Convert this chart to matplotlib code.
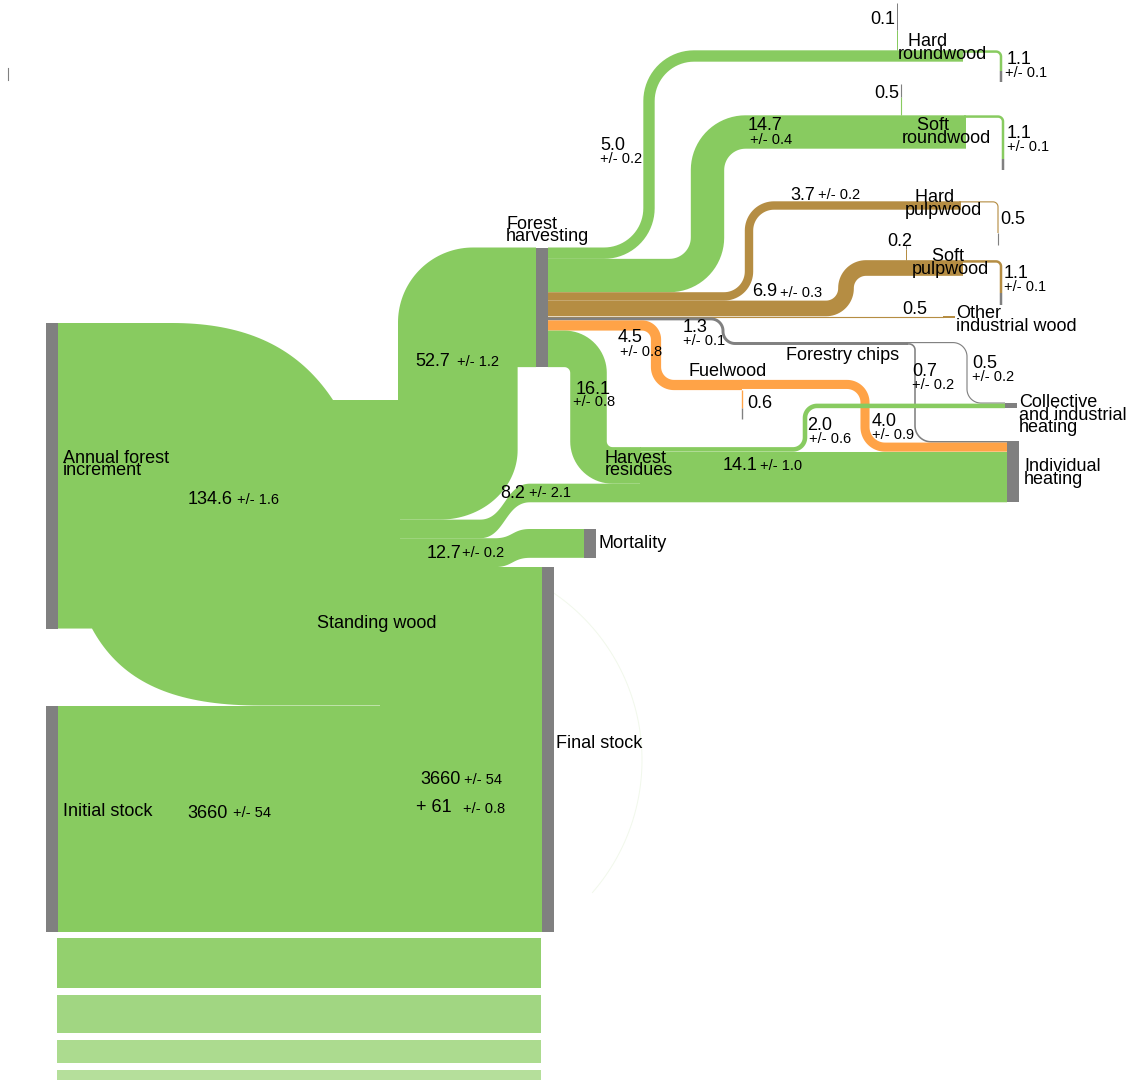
import numpy as np
import matplotlib
matplotlib.use('Agg')
import matplotlib.pyplot as plt
from matplotlib.patches import Polygon, Rectangle

plt.rcParams['font.family'] = ['Liberation Sans', 'DejaVu Sans']

# ---- data (million m3 / year, +/- uncertainty) ----
increment = 134.6
increment_err = 1.6
inc_split = [52.7, 8.2, 12.7, 61.0]          # harvesting, direct heating, mortality, stock growth
inc_split_err = [1.2, 2.1, 0.2, 0.8]
stock_initial = 3660
stock_err = 54

harvest_out = [5.0, 14.7, 3.7, 6.9, 0.5, 1.3, 4.5, 16.1]
harvest_err = [0.2, 0.4, 0.2, 0.3, None, 0.1, 0.8, 0.8]

product_up = [0.1, 0.5, None, 0.2]           # small flows leaving the product bands upward
product_right = [1.1, 1.1, 0.5, 1.1]         # flows leaving to the right / down
product_right_err = [0.1, 0.1, None, 0.1]

chips_split = [0.5, 0.7]                     # collective, individual
chips_split_err = [0.2, 0.2]
fuel_loss = 0.6
fuel_heat = 4.0
fuel_heat_err = 0.9
resid_split = [2.0, 14.1]                    # collective, individual
resid_split_err = [0.6, 1.0]

stock_bars = [50, 38, 23, 15]                # faded stock slices below

# ---- style / layout ----
S = 2.27            # px per unit
NW = 12             # node width
GREEN = '#88cb60'
BROWN = '#b58d43'
ORANGE = '#ffa347'
GRAY = '#808080'
BAR_COLORS = ['#93d06e', '#a1d682', '#acdb8f', '#b5df9b']
BIG, SMALL = 13, 10.5


def bez(p0, p1, p2, p3, n=40):
    t = np.linspace(0, 1, n)[:, None]
    p0, p1, p2, p3 = map(np.array, (p0, p1, p2, p3))
    return list(map(tuple, (1-t)**3*p0 + 3*(1-t)**2*t*p1 + 3*(1-t)*t**2*p2 + t**3*p3))


def s_curve(x0, y0, x1, y1):
    xm = (x0 + x1) / 2
    return bez((x0, y0), (xm, y0), (xm, y1), (x1, y1))


def arc(cx, cy, rx, ry, a0, a1, n=40):
    a = np.radians(np.linspace(a0, a1, n))
    return list(zip(cx + rx*np.cos(a), cy + ry*np.sin(a)))


def rounded(pts, radii, n=20):
    out = [pts[0]]
    for i in range(1, len(pts) - 1):
        p0, p, p1 = (np.array(q, float) for q in pts[i-1:i+2])
        d1 = (p - p0) / np.linalg.norm(p - p0)
        d2 = (p1 - p) / np.linalg.norm(p1 - p)
        r = radii[i-1]
        c = p - d1*r + d2*r
        t = np.linspace(0, np.pi/2, n)
        a = c[None, :] - np.outer(np.cos(t), d2)*r + np.outer(np.sin(t), d1)*r
        out += list(map(tuple, a))
    out.append(pts[-1])
    return out


def pipe(pts, radii, value, color, z=2, minw=1.0):
    p = np.array(rounded(pts, radii))
    ax.plot(p[:, 0], p[:, 1], color=color, lw=max(value*S, minw)*0.72,
            solid_capstyle='butt', solid_joinstyle='round', zorder=z)


def poly(pts, color, z=1):
    ax.add_patch(Polygon(pts, closed=True, fc=color, ec='none', zorder=z))


def node(x, y, h, w=NW, color=GRAY):
    ax.add_patch(Rectangle((x, y), w, h, fc=color, ec='none', zorder=5))


def txt(s, x, y, size=BIG, ha='left'):
    ax.text(x, y, s, fontsize=size, ha=ha, va='center', color='black', zorder=10,
            linespacing=0.67, multialignment='left')


fig = plt.figure(figsize=(11.31, 10.8), dpi=100)
ax = fig.add_axes([0, 0, 1, 1])
ax.set_xlim(0, 1131)
ax.set_ylim(1080, 0)
ax.axis('off')

# ---- annual increment block ----
INC_X, INC_TOP, SHIFT = 46, 323, 77
inc_h = increment * S
inc_bot = INC_TOP + inc_h
y0 = INC_TOP + SHIFT
top = [(58, INC_TOP), (172, INC_TOP)] + bez((172, INC_TOP), (250, INC_TOP), (300, 350), (333, y0)) + [(400, y0)]
bot = [(58, inc_bot), (92, inc_bot)] + bez((92, inc_bot), (120, 680), (170, inc_bot + SHIFT), (260, inc_bot + SHIFT)) + [(400, inc_bot + SHIFT)]
poly(top + bot[::-1], GREEN, z=1.5)

split_tops = y0 + np.concatenate([[0], np.cumsum(inc_split)]) * S

# stock box
STOCK_H = 226.5
stock_top = split_tops[4]
poly([(58, stock_top), (542, stock_top), (542, stock_top + STOCK_H), (58, stock_top + STOCK_H)], GREEN)

# 52.7 -> forest harvesting
FH_X, FH_TOP = 536, 247.5
fh_bot = FH_TOP + inc_split[0] * S
lx = 398
rx = lx + inc_split[0] * S
pts = [(380, split_tops[0]), (lx, split_tops[0]), (lx, FH_TOP + 75)] + arc(473, FH_TOP + 75, 75, 75, 180, 270) \
    + [(FH_X, FH_TOP), (FH_X, fh_bot), (rx, fh_bot), (rx, 450)] \
    + arc(440, 450, rx - 440, split_tops[1] - 450, 0, 90) + [(380, split_tops[1])]
poly(pts, GREEN)

# individual / collective heating stacks
IH_X, IH_TOP = 1007, 441
ih_in = [chips_split[1], fuel_heat, resid_split[1], inc_split[1]]
ih_tops = IH_TOP + np.concatenate([[0], np.cumsum(ih_in)]) * S
CH_X, CH_TOP = 1005, 402.5
ch_in = [chips_split[0], resid_split[0]]
ch_tops = CH_TOP + np.concatenate([[0], np.cumsum(ch_in)]) * S

# 8.2 direct to individual heating
t0, b0 = split_tops[1], split_tops[2]
t1, b1 = ih_tops[3], ih_tops[4]
poly([(380, t0)] + s_curve(480, t0, 530, t1) + [(IH_X, t1), (IH_X, b1)]
     + s_curve(530, b1, 480, b0) + [(380, b0)], GREEN)

# 12.7 mortality
MORT_X, MORT_TOP = 584, 529
t0, b0 = split_tops[2], split_tops[3]
mb = MORT_TOP + inc_split[2] * S
poly([(380, t0)] + s_curve(495, t0, 530, MORT_TOP) + [(MORT_X, MORT_TOP), (MORT_X, mb)]
     + s_curve(530, mb, 495, b0) + [(380, b0)], GREEN)

# 61 growth
poly([(380, split_tops[3]), (542, split_tops[3]), (542, split_tops[4]), (380, split_tops[4])], GREEN)

# ---- forest harvesting outputs ----
fh_tops = FH_TOP + np.concatenate([[0], np.cumsum(harvest_out)]) * S
fh_c = (fh_tops[:-1] + fh_tops[1:]) / 2
x_out = FH_X + NW

prod_turn = [649, 707.5, 749, 846]
prod_cy = [56, 132, 205.5, 268]
prod_end = [963, 966, 961, 963]
prod_r = [45, 38, 25, 20]
prod_col = [GREEN, GREEN, BROWN, BROWN]
up_x = [897, 901, None, 906]
up_top = [3, 84, None, 245]
up_gray = [27, 13, None, 4]
right_x = [1001, 1003, 998, 1001]
right_bot = [71, 159, 233, 293]
right_gray = [11, 11, 12, 12]

for i in range(4):
    v = harvest_out[i]
    pipe([(x_out, fh_c[i]), (prod_turn[i], fh_c[i]), (prod_turn[i], prod_cy[i]), (prod_end[i], prod_cy[i])],
         [prod_r[i], prod_r[i]], v, prod_col[i])
    band_top = prod_cy[i] - v * S / 2
    if product_up[i] is not None:
        u = product_up[i]
        ax.plot([up_x[i]] * 2, [band_top, up_top[i] + up_gray[i]], color=prod_col[i],
                lw=max(u*S, 1)*0.72, solid_capstyle='butt', zorder=2)
        ax.plot([up_x[i]] * 2, [up_top[i] + up_gray[i], up_top[i]], color=GRAY,
                lw=max(u*S, 1)*0.72, solid_capstyle='butt', zorder=2)
    rv = product_right[i]
    cy = band_top + rv * S / 2
    pipe([(prod_end[i] - 2, cy), (right_x[i], cy), (right_x[i], right_bot[i])], [5], rv, prod_col[i])
    ax.plot([right_x[i]] * 2, [right_bot[i], right_bot[i] + right_gray[i]], color=GRAY,
            lw=max(rv*S, 1)*0.72, solid_capstyle='butt', zorder=2)

# other industrial wood
ax.plot([x_out, 943], [fh_c[4]] * 2, color=BROWN, lw=max(harvest_out[4]*S, 1)*0.72, zorder=2)
ax.add_patch(Rectangle((943, fh_c[4] - 1.2), 12, 2.4, fc=BROWN, ec='none', zorder=2))

# forestry chips
pipe([(x_out, fh_c[5]), (723, fh_c[5]), (723, 343.5), (908, 343.5)], [12, 12], harvest_out[5], GRAY)
ctop = 343.5 - harvest_out[5] * S / 2
c05 = ctop + chips_split[0] * S / 2
c07 = ctop + chips_split[0] * S + chips_split[1] * S / 2
pipe([(906, c05), (967, c05), (967, (ch_tops[0] + ch_tops[1]) / 2), (CH_X, (ch_tops[0] + ch_tops[1]) / 2)],
     [14, 14], chips_split[0], GRAY)
pipe([(906, c07), (915, c07), (915, (ih_tops[0] + ih_tops[1]) / 2), (IH_X, (ih_tops[0] + ih_tops[1]) / 2)],
     [6, 16], chips_split[1], GRAY)

# fuelwood
pipe([(x_out, fh_c[6]), (656, fh_c[6]), (656, 385), (742, 385)], [14, 18], harvest_out[6], ORANGE)
ftop = 385 - harvest_out[6] * S / 2
fc4 = ftop + fuel_heat * S / 2
fih = (ih_tops[1] + ih_tops[2]) / 2
pipe([(741, fc4), (865, fc4), (865, fih), (IH_X, fih)], [18, 20], fuel_heat, ORANGE)
fb = 385 + harvest_out[6] * S / 2
ax.plot([742, 742], [fb, 408], color=ORANGE, lw=fuel_loss*S*0.72, solid_capstyle='butt', zorder=2)
ax.plot([742, 742], [408, 419], color=GRAY, lw=fuel_loss*S*0.72, solid_capstyle='butt', zorder=2)

# harvest residues
r_bot = ih_tops[3]
r_top = r_bot - harvest_out[7] * S
pipe([(x_out, fh_c[7]), (588.5, fh_c[7]), (588.5, (r_top + r_bot) / 2), (641, (r_top + r_bot) / 2)],
     [24, 24], harvest_out[7], GREEN)
pipe([(640, (ih_tops[2] + ih_tops[3]) / 2), (IH_X, (ih_tops[2] + ih_tops[3]) / 2)], [], resid_split[1], GREEN)
c2 = r_top + resid_split[0] * S / 2
cch = (ch_tops[1] + ch_tops[2]) / 2
pipe([(640, c2), (805, c2), (805, cch), (CH_X, cch)], [12, 12], resid_split[0], GREEN)

# ---- nodes ----
node(INC_X, INC_TOP, inc_h)
node(INC_X, stock_top, STOCK_H)
node(FH_X, FH_TOP, fh_bot - FH_TOP)
node(MORT_X, MORT_TOP, inc_split[2] * S)
node(542, split_tops[3], split_tops[4] - split_tops[3] + STOCK_H)
node(IH_X, IH_TOP, ih_tops[-1] - IH_TOP)
node(CH_X, CH_TOP, ch_tops[-1] - CH_TOP)

# faded stock slices
yb = 938
for h, c in zip(stock_bars, BAR_COLORS):
    ax.add_patch(Rectangle((57, yb), 484, h, fc=c, ec='none', zorder=1))
    yb += h + 7

# faint outline arc and small tick
a = np.radians(np.linspace(-56, 41, 80))
ax.plot(440 + 202*np.cos(a), 760 + 202*np.sin(a), color='#f1f8eb', lw=0.7, zorder=0)
ax.plot([8, 8], [68, 80], color=GRAY, lw=0.8)


def f1(v):
    return f"{v:.1f}"


def pm(e):
    return f"+/- {e}"


# ---- labels ----
txt(f1(product_up[0]), 870, 20)
txt('  Hard\nroundwood', 898, 48)
txt(f1(product_right[0]), 1007, 60); txt(pm(product_right_err[0]), 1005, 73, SMALL)
txt(f1(product_up[1]), 874, 93)
txt('   Soft\nroundwood', 902, 132)
txt(f1(product_right[1]), 1007, 133); txt(pm(product_right_err[1]), 1007, 147, SMALL)
txt(f1(harvest_out[1]), 748, 126); txt(pm(harvest_err[1]), 750, 140, SMALL)
txt(f1(harvest_out[0]), 600, 146); txt(pm(harvest_err[0]), 600, 159, SMALL)
txt(f1(harvest_out[2]), 790, 195); txt(pm(harvest_err[2]), 818, 195, SMALL)
txt('  Hard\npulpwood', 905, 204)
txt(f1(product_right[2]), 1000, 219)
txt(f1(product_up[3]), 887, 241)
txt('    Soft\npulpwood', 912, 263)
txt(f1(product_right[3]), 1004, 273); txt(pm(product_right_err[3]), 1004, 287, SMALL)
txt(f1(harvest_out[3]), 752, 292); txt(pm(harvest_err[3]), 780, 293, SMALL)
txt(f1(harvest_out[4]), 902, 309)
txt('Other\nindustrial wood', 956, 320)
txt('Forest\nharvesting', 506, 230.5)
txt(f1(harvest_out[6]), 618, 338); txt(pm(harvest_err[6]), 620, 352, SMALL)
txt(f1(harvest_out[5]), 683, 328); txt(pm(harvest_err[5]), 683, 341, SMALL)
txt('Forestry chips', 786, 355)
txt(f1(chips_split[1]), 912, 372); txt(pm(chips_split_err[1]), 912, 385, SMALL)
txt(f1(chips_split[0]), 972, 364); txt(pm(chips_split_err[0]), 972, 377, SMALL)
txt('Fuelwood', 689, 372)
txt(f1(fuel_loss), 747, 403)
txt('Collective\nand industrial\nheating', 1019, 415)
txt(f1(harvest_out[7]), 576, 389); txt(pm(harvest_err[7]), 573, 402, SMALL)
txt(f1(resid_split[0]), 807, 425); txt(pm(resid_split_err[0]), 809, 439, SMALL)
txt(f1(fuel_heat), 872, 422); txt(pm(fuel_heat_err), 872, 435, SMALL)
txt('Harvest\nresidues', 605, 464.5)
txt(f1(resid_split[1]), 723, 465); txt(pm(resid_split_err[1]), 760, 466, SMALL)
txt('Individual\nheating', 1024, 473)
txt(f1(inc_split[0]), 415, 361); txt(pm(inc_split_err[0]), 457, 362, SMALL)
txt('Annual forest\nincrement', 63, 464.5)
txt(f1(increment), 188, 499); txt(pm(increment_err), 237, 500, SMALL)
txt(f1(inc_split[1]), 500, 493); txt(pm(inc_split_err[1]), 529, 493, SMALL)
txt(f1(inc_split[2]), 427, 553); txt(pm(inc_split_err[2]), 462, 553, SMALL)
txt('Mortality', 598, 543)
txt('Standing wood', 317, 624)
txt('Final stock', 556, 744)
txt(str(stock_initial), 420, 780); txt(pm(stock_err), 464, 780, SMALL)
txt(f"+ {inc_split[3]:.0f}", 416, 808); txt(pm(inc_split_err[3]), 463, 809, SMALL)
txt('Initial stock', 63, 812)
txt(str(stock_initial), 187, 813); txt(pm(stock_err), 233, 813, SMALL)

fig.savefig('out.png', dpi=100)
